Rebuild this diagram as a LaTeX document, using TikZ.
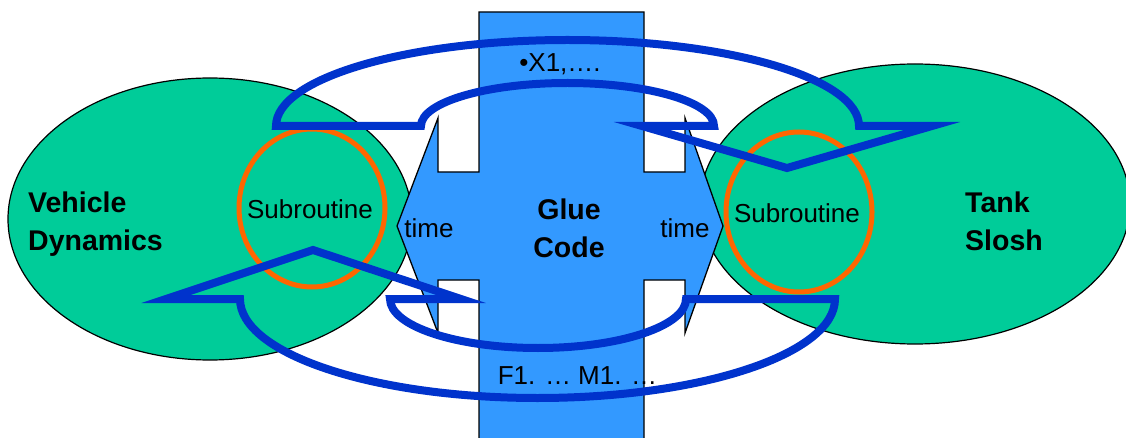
\documentclass[tikz,border=0pt]{standalone}
\usepackage{fontspec}
\setmainfont{Liberation Sans}
\usetikzlibrary{shapes.geometric}
\definecolor{modgreen}{HTML}{00CC99}
\definecolor{gluefill}{HTML}{3399FF}
\definecolor{flowblue}{HTML}{0033CC}
\definecolor{suborange}{HTML}{FF6600}

\begin{document}
\begin{tikzpicture}[x=1pt,y=1pt,yscale=-1,
  model/.style={ellipse, draw=black, line width=1.2pt, fill=modgreen, inner sep=0},
  subr/.style={ellipse, draw=suborange, line width=5pt, inner sep=0},
  title/.style={font=\fontsize{28.5}{38}\selectfont\bfseries, inner sep=0},
  lbl/.style={font=\fontsize{26}{30}\selectfont, inner sep=0, anchor=base},
  flow/.style={draw=flowblue, line width=8pt, miter limit=10, line join=miter},
  glue/.style={draw=black, line width=1.3pt, fill=gluefill, line join=miter}]

\clip (0,0) rectangle (1126,438);
\fill[white] (0,0) rectangle (1126,438);

% the two simulation models
\node[model, minimum width=404, minimum height=282] (vd) at (210,219) {};
\node[model, minimum width=430, minimum height=280] (ts) at (915,204) {};

% their subroutines
\node[subr, minimum width=146, minimum height=158] (s1) at (312,208) {};
\node[subr, minimum width=146, minimum height=160] (s2) at (799,212) {};
\path (s1.center) ++(-2,11) node[lbl] (s1t) {Subroutine};
\path (s2.center) ++(-2,11) node[lbl] (s2t) {Subroutine};

% glue code: column plus double-headed time arrow
\draw[glue] (479,12) -- (644,12) -- (644,172) -- (685,172) -- (685,118)
  -- (723,226) -- (685,333) -- (685,280) -- (644,280) -- (644,445)
  -- (479,445) -- (479,280) -- (438,280) -- (438,333) -- (397,226)
  -- (438,118) -- (438,172) -- (479,172) -- cycle;

% data flow from vehicle dynamics to tank slosh (over the top)
\draw[flow] (276,126) -- (421,126)
  arc[start angle=180, end angle=360, x radius=146.5, y radius=43]
  -- (642,126) -- (787,168) -- (932,126) -- (859,126)
  arc[start angle=0, end angle=-180, x radius=291.5, y radius=86] -- cycle;

% data flow from tank slosh back to vehicle dynamics (underneath)
\draw[flow] (166,299) -- (240,299)
  arc[start angle=180, end angle=0, x radius=297.5, y radius=99]
  -- (686,299)
  arc[start angle=0, end angle=180, x radius=148, y radius=49]
  -- (461,299) -- (313,250) -- cycle;

% labels (base anchor of a two-line node sits on its last line)
\node[title, align=left, anchor=base west] (vdt) at (28,251) {Vehicle\\Dynamics};
\node[title, align=left, anchor=base west] (tst) at (965,251) {Tank\\Slosh};
\node[title, align=center, anchor=base] (gct) at (569,258) {Glue\\Code};
\node[lbl] (t1) at (429,237) {time};
\node[lbl] (t2) at (685,237) {time};
\node[lbl] (xs) at (560,72) {•X1,….};
\node[lbl] (fm) at (577.5,384) {F1. … M1. …};
\end{tikzpicture}
\end{document}
